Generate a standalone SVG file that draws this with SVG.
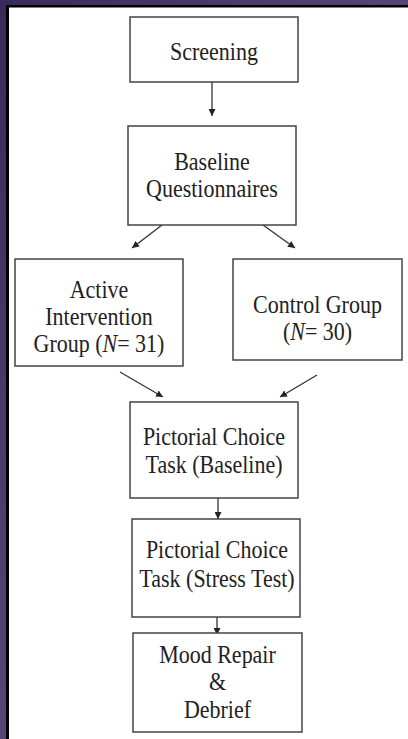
<svg xmlns="http://www.w3.org/2000/svg" width="408" height="739" viewBox="0 0 408 739">
<defs>
<linearGradient id="frame" x1="0" y1="0" x2="1" y2="1" gradientUnits="objectBoundingBox">
<stop offset="0" stop-color="#3a2a5c"/>
<stop offset="1" stop-color="#6f6190"/>
</linearGradient>
<marker id="ah" viewBox="0 0 10 10" refX="10" refY="5" markerWidth="7" markerHeight="7" markerUnits="userSpaceOnUse" orient="auto">
<path d="M0,0 L10,5 L0,10 Z" fill="#222"/>
</marker>
<style>
.box{fill:#fff;stroke:#444;stroke-width:1.5}
.t{font-family:"Liberation Serif","Times New Roman",serif;font-size:22px;fill:#222;text-anchor:middle}
.c{stroke:#333;stroke-width:1.3;fill:none;marker-end:url(#ah)}
</style>
</defs>
<rect x="0" y="0" width="408" height="739" fill="#fff"/>
<path d="M0,0 H408 V5 H6 V739 H0 Z" fill="url(#frame)"/>
<path d="M6,5 H408 V7.5 H9 V739 H6 Z" fill="#000"/>

<g id="connectors">
<line class="c" x1="212" y1="82" x2="212" y2="116"/>
<line class="c" x1="162" y1="225" x2="132" y2="248"/>
<line class="c" x1="263" y1="225" x2="295" y2="248"/>
<line class="c" x1="120" y1="372" x2="163" y2="397"/>
<line class="c" x1="317" y1="375" x2="280" y2="397"/>
<line class="c" x1="218" y1="498" x2="218" y2="519"/>
<line class="c" x1="217" y1="617" x2="217" y2="635"/>
</g>

<g id="screening">
<rect class="box" x="130" y="17" width="168" height="65"/>
<text class="t" transform="translate(214,60) scale(1,1.15)">Screening</text>
</g>

<g id="baseline">
<rect class="box" x="128" y="126" width="168" height="99"/>
<text class="t" transform="translate(212,170) scale(1,1.15)">Baseline</text>
<text class="t" transform="translate(212,197) scale(1,1.15)">Questionnaires</text>
</g>

<g id="active">
<rect class="box" x="15" y="259" width="168" height="107"/>
<text class="t" transform="translate(99,298) scale(1,1.15)">Active</text>
<text class="t" transform="translate(99,325) scale(1,1.15)">Intervention</text>
<text class="t" transform="translate(99,352) scale(1,1.15)">Group (<tspan font-style="italic">N</tspan>= 31)</text>
</g>

<g id="control">
<rect class="box" x="233" y="259" width="169" height="101"/>
<text class="t" transform="translate(317.5,313) scale(1,1.15)">Control Group</text>
<text class="t" transform="translate(317.5,340) scale(1,1.15)">(<tspan font-style="italic">N</tspan>= 30)</text>
</g>

<g id="pictorial-baseline">
<rect class="box" x="130" y="402" width="168" height="96"/>
<text class="t" transform="translate(214,445) scale(1,1.15)">Pictorial Choice</text>
<text class="t" transform="translate(214,473) scale(1,1.15)">Task (Baseline)</text>
</g>

<g id="pictorial-stress">
<rect class="box" x="132" y="519" width="168" height="98"/>
<text class="t" transform="translate(217,558) scale(1,1.15)">Pictorial Choice</text>
<text class="t" transform="translate(217,587) scale(1,1.15)">Task (Stress Test)</text>
</g>

<g id="mood-repair">
<rect class="box" x="133" y="633" width="169" height="99"/>
<text class="t" transform="translate(217.5,663) scale(1,1.15)">Mood Repair</text>
<text class="t" transform="translate(217.5,690) scale(1,1.15)">&amp;</text>
<text class="t" transform="translate(217.5,718) scale(1,1.15)">Debrief</text>
</g>
</svg>
